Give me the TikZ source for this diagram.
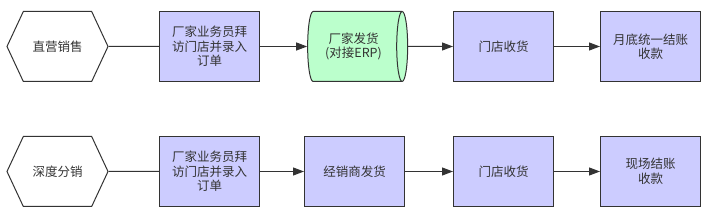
\documentclass[tikz,border=0pt]{standalone}
\usepackage{fontspec}
\setmainfont{Noto Sans CJK SC}
\usetikzlibrary{arrows.meta,shapes.geometric,shapes.symbols}
\definecolor{boxfill}{HTML}{CCCCFF}
\definecolor{dbfill}{HTML}{BBFFCC}
\definecolor{linegray}{HTML}{333333}

\begin{document}
\begin{tikzpicture}[x=1pt,y=-1pt,line width=1pt,
    font=\fontsize{12.5}{14.5}\selectfont,
    every node/.style={text=linegray},
    stepbox/.style={draw=linegray,fill=boxfill,minimum width=100pt,
      minimum height=70pt,align=center,inner sep=2pt},
    startbox/.style={draw=linegray,signal,signal to=west and east,
      signal pointer angle=130,minimum width=101pt,minimum height=70pt,
      inner sep=1pt},
    dbbox/.style={draw=linegray,fill=dbfill,cylinder,shape border rotate=0,
      aspect=0.32,minimum width=70pt,minimum height=100pt,align=center},
    flow/.style={draw=linegray,-{Triangle[length=11pt,width=8pt]}},
    link/.style={draw=linegray}]
  \useasboundingbox (0,0) rectangle (712,221);
  % first row
  \node[startbox] (zy) at (57.5,46.5) {直营销售};
  \node[stepbox] (zyorder) at (209.5,46.5) {厂家业务员拜\\访门店并录入\\订单};
  \node[dbbox] (erp) at (353.5,46.5) {厂家发货\\(对接ERP)};
  \node[stepbox] (zyrecv) at (503.5,46.5) {门店收货};
  \node[stepbox] (zypay) at (650.5,46.5) {月底统一结账\\收款};
  \draw[link] (zy) -- (zyorder);
  \draw[flow] (zyorder) -- (erp);
  \draw[flow] (erp) -- (zyrecv);
  \draw[flow] (zyrecv) -- (zypay);
  % second row
  \node[startbox] (fx) at (57.5,171.5) {深度分销};
  \node[stepbox] (fxorder) at (209.5,171.5) {厂家业务员拜\\访门店并录入\\订单};
  \node[stepbox] (fxship) at (354.5,171.5) {经销商发货};
  \node[stepbox] (fxrecv) at (503.5,171.5) {门店收货};
  \node[stepbox] (fxpay) at (650.5,171.5) {现场结账\\收款};
  \draw[link] (fx) -- (fxorder);
  \draw[flow] (fxorder) -- (fxship);
  \draw[flow] (fxship) -- (fxrecv);
  \draw[flow] (fxrecv) -- (fxpay);
\end{tikzpicture}
\end{document}
